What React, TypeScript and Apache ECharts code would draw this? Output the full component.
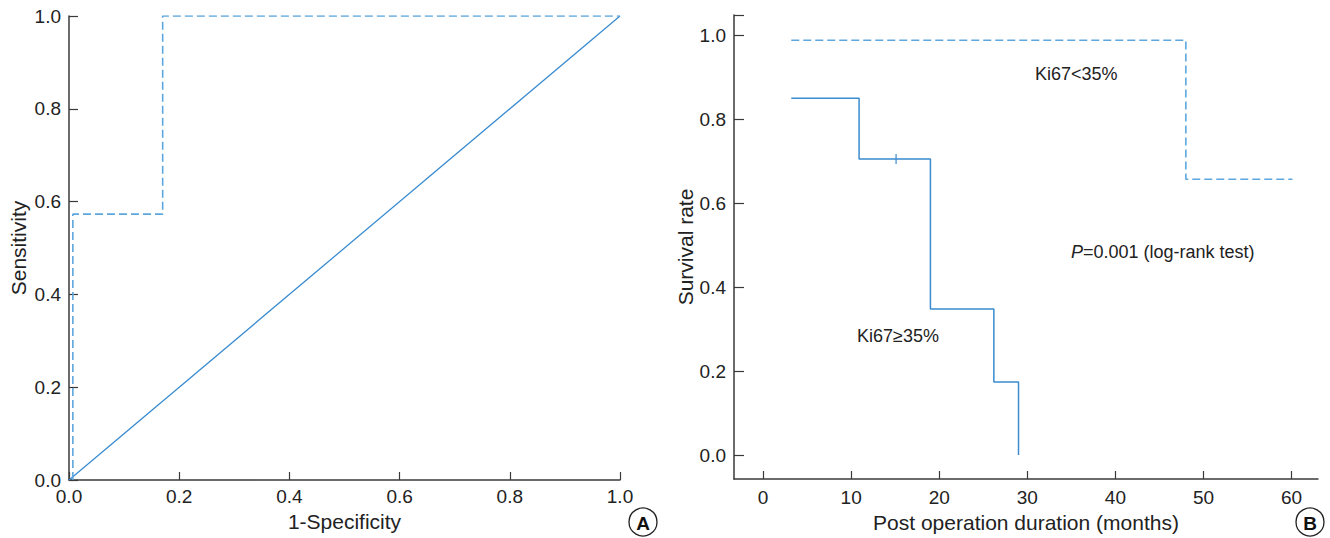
import React, { useEffect, useRef } from "react";
import * as echarts from "echarts";

// ROC curve (panel A)
const rocFpr = [0.007, 0.007, 0.17, 0.17, 1.0];
const rocTpr = [0.0, 0.573, 0.573, 1.0, 1.0];
const refFpr = [0, 1];
const refTpr = [0, 1];
const unitTicks = [0, 0.2, 0.4, 0.6, 0.8, 1.0];

// Kaplan-Meier (panel B)
const lowTimes = [3.2, 48.0, 60.1];
const lowSurv = [0.988, 0.657, 0.657];
const highTimes = [3.2, 10.9, 19.0, 26.2, 29.0];
const highSurv = [0.85, 0.705, 0.348, 0.174, 0.0];
const censorTimes = [15.1];
const censorSurv = [0.705];
const monthTicks = [0, 10, 20, 30, 40, 50, 60];
const survTicks = [0, 0.2, 0.4, 0.6, 0.8, 1.0];

const FONT = "'Liberation Sans', Arial, sans-serif";
const AXIS_COLOR = "#3a3a3a";
const TEXT_COLOR = "#222";
const SOLID = "#3a8bd0";
const DASH = "#5ea7de";

export default function App() {
  const ref = useRef<HTMLDivElement>(null);
  useEffect(() => {
    if (!ref.current) return;
    const chart = echarts.init(ref.current, null, { renderer: "svg" });
    const axisLine = { show: true, onZero: false, lineStyle: { color: AXIS_COLOR, width: 1.5 } };
    const lbl = { color: TEXT_COLOR, fontSize: 19, fontFamily: FONT };
    const nameStyle = { color: TEXT_COLOR, fontSize: 21, fontFamily: FONT };
    const fmt = (v: number) => v.toFixed(1);
    chart.setOption({
      animation: false,
      textStyle: { fontFamily: FONT },
      grid: [
        { left: 69, top: 16, width: 551, height: 464 },
        { left: 734, top: 15, width: 584, height: 464 },
      ],
      xAxis: [
        {
          gridIndex: 0, type: "value", min: 0, max: 1,
          axisLine, splitLine: { show: false },
          axisTick: { show: true, inside: true, length: 8, lineStyle: { color: AXIS_COLOR, width: 1.2 }, customValues: unitTicks },
          axisLabel: { ...lbl, margin: 7, formatter: fmt, customValues: unitTicks },
          name: "1-Specificity", nameLocation: "middle", nameGap: 31, nameTextStyle: nameStyle,
        },
        {
          gridIndex: 1, type: "value", min: -3.3, max: 63,
          axisLine, splitLine: { show: false },
          axisTick: { show: true, inside: true, length: 8, lineStyle: { color: AXIS_COLOR, width: 1.2 }, customValues: monthTicks },
          axisLabel: { ...lbl, margin: 9, customValues: monthTicks },
          name: "Post operation duration (months)", nameLocation: "middle", nameGap: 32, nameTextStyle: nameStyle,
        },
      ],
      yAxis: [
        {
          gridIndex: 0, type: "value", min: 0, max: 1,
          axisLine, splitLine: { show: false },
          axisTick: { show: true, inside: true, length: 9, lineStyle: { color: AXIS_COLOR, width: 1.2 }, customValues: unitTicks },
          axisLabel: { ...lbl, margin: 8, formatter: fmt, customValues: unitTicks },
          name: "Sensitivity", nameLocation: "middle", nameGap: 40, nameTextStyle: nameStyle,
        },
        {
          gridIndex: 1, type: "value", min: -0.057, max: 1.048,
          axisLine, splitLine: { show: false },
          axisTick: { show: true, inside: true, length: 10, lineStyle: { color: AXIS_COLOR, width: 1.2 }, customValues: [...survTicks, 1.048] },
          axisLabel: { ...lbl, margin: 8, formatter: fmt, customValues: survTicks },
          name: "Survival rate", nameLocation: "middle", nameGap: 38, nameTextStyle: nameStyle,
        },
      ],
      series: [
        {
          type: "line", xAxisIndex: 0, yAxisIndex: 0, symbol: "none",
          data: refFpr.map((x, i) => [x, refTpr[i]]),
          lineStyle: { color: SOLID, width: 1.3 },
        },
        {
          type: "line", xAxisIndex: 0, yAxisIndex: 0, symbol: "none",
          data: rocFpr.map((x, i) => [x, rocTpr[i]]),
          lineStyle: { color: DASH, width: 1.6, type: [8, 4] },
        },
        {
          type: "line", xAxisIndex: 1, yAxisIndex: 1, symbol: "none", step: "end",
          data: lowTimes.map((x, i) => [x, lowSurv[i]]),
          lineStyle: { color: DASH, width: 1.6, type: [8, 4] },
        },
        {
          type: "line", xAxisIndex: 1, yAxisIndex: 1, symbol: "none", step: "end",
          data: highTimes.map((x, i) => [x, highSurv[i]]),
          lineStyle: { color: SOLID, width: 1.5 },
        },
        {
          type: "scatter", xAxisIndex: 1, yAxisIndex: 1, symbol: "rect", symbolSize: [1.5, 10],
          data: censorTimes.map((x, i) => [x, censorSurv[i]]),
          itemStyle: { color: SOLID },
        },
      ],
      graphic: [
        { type: "text", left: 1035, top: 65, style: { text: "Ki67<35%", fill: TEXT_COLOR, fontSize: 18, fontFamily: FONT } },
        {
          type: "text", left: 1071, top: 243,
          style: {
            text: "{i|P}=0.001 (log-rank test)", fill: TEXT_COLOR, fontSize: 18, fontFamily: FONT,
            rich: { i: { fontStyle: "italic", fontSize: 18, fontFamily: FONT, fill: TEXT_COLOR } },
          },
        },
        { type: "text", left: 857, top: 327, style: { text: "Ki67\u226535%", fill: TEXT_COLOR, fontSize: 18, fontFamily: FONT } },
        { type: "circle", shape: { cx: 643, cy: 522, r: 14 }, style: { fill: "#fff", stroke: "#222", lineWidth: 1.3 } },
        { type: "text", x: 643, y: 523, style: { text: "A", fill: "#111", fontSize: 19, fontWeight: "bold", fontFamily: FONT, align: "center", verticalAlign: "middle" } },
        { type: "circle", shape: { cx: 1310, cy: 522, r: 14 }, style: { fill: "#fff", stroke: "#222", lineWidth: 1.3 } },
        { type: "text", x: 1310, y: 523, style: { text: "B", fill: "#111", fontSize: 19, fontWeight: "bold", fontFamily: FONT, align: "center", verticalAlign: "middle" } },
      ],
    });
    return () => chart.dispose();
  }, []);
  return (
    <div
      ref={ref}
      style={{ position: "fixed", left: 0, top: 0, width: 1330, height: 538, background: "#fff" }}
    />
  );
}
